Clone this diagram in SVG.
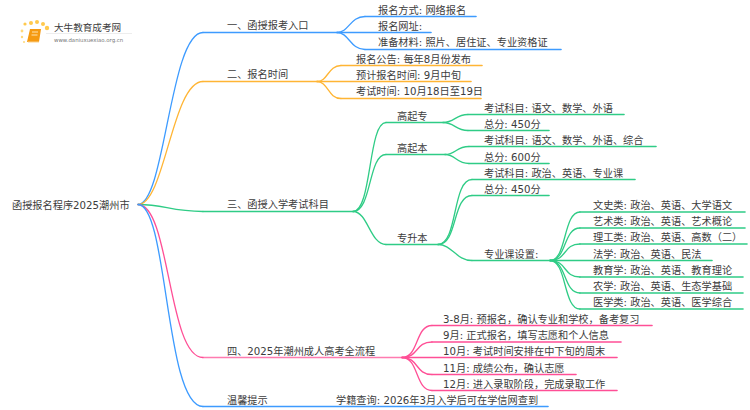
<svg xmlns="http://www.w3.org/2000/svg" width="750" height="410" viewBox="0 0 750 410">
<style>
text{font-family:"DejaVu Sans","Noto Sans CJK SC",sans-serif;font-size:10.2px;fill:#3c3c3c}
.c{fill:none;stroke-width:1.3;stroke-linecap:round}
.u{fill:none;stroke-width:1.6;stroke-linecap:round}
.b{stroke:#3d9bff}.o{stroke:#ffb534}.g{stroke:#2fcc86}.p{stroke:#ff4f96}
</style>
<rect width="750" height="410" fill="#fff"/>
<g id="connectors">
<path class="c b" d="M138 204.500C165 204.500 170 32.500 203 32.500"/>
<path class="c o" d="M138 204.500C165 204.500 172 81.500 203 81.500"/>
<path class="c g" d="M138 204.500C165 204.500 170 211.500 203 211.500"/>
<path class="c p" d="M138 204.500C170 204.500 168 357.500 203 357.500"/>
<path class="c b" d="M138 204.500C168 204.500 165 406.500 203 406.500"/>
<path class="u b" d="M203 32.500H337"/>
<path class="u o" d="M203 81.500H317"/>
<path class="u g" d="M203 211.500H353"/>
<path class="u p" d="M203 357.500H402" stroke-opacity=".75"/>
<path class="u b" d="M203 406.500H548"/>
<path class="c b" d="M337 32.500C349 32.500 350 16.500 365 16.500"/><path class="u b" d="M365 16.500H476"/>
<path class="u b" d="M337 32.500H431"/>
<path class="c b" d="M337 32.500C349 32.500 350 49.500 365 49.500"/><path class="u b" d="M365 49.500H561"/>
<path class="c o" d="M317 81.500C328 81.500 328 65.500 341 65.500"/><path class="u o" d="M341 65.500H482"/>
<path class="u o" d="M317 81.500H471"/>
<path class="c o" d="M317 81.500C328 81.500 328 98.500 341 98.500"/><path class="u o" d="M341 98.500H481"/>
<path class="c g" d="M353 211.500C372 211.500 368 122.500 386 122.500"/><path class="u g" d="M386 122.500H443"/>
<path class="c g" d="M353 211.500C372 211.500 368 154.500 386 154.500"/><path class="u g" d="M386 154.500H445"/>
<path class="c g" d="M353 211.500C368 211.500 370 244.500 386 244.500"/><path class="u g" d="M386 244.500H438"/>
<path class="c g" d="M443 122.500C455 122.500 455 114.500 468 114.500"/><path class="u g" d="M468 114.500H624"/>
<path class="c g" d="M443 122.500C455 122.500 455 130.500 468 130.500"/><path class="u g" d="M468 130.500H549"/>
<path class="c g" d="M445 154.500C456 154.500 456 146.500 469 146.500"/><path class="u g" d="M469 146.500H656"/>
<path class="c g" d="M445 154.500C456 154.500 456 163.500 469 163.500"/><path class="u g" d="M469 163.500H549"/>
<path class="c g" d="M438 244.500C458 244.500 452 179.500 472 179.500"/><path class="u g" d="M472 179.500H635"/>
<path class="c g" d="M438 244.500C458 244.500 452 195.500 472 195.500"/><path class="u g" d="M472 195.500H549"/>
<path class="c g" d="M438 244.500C452 244.500 456 260.500 472 260.500"/><path class="u g" d="M472 260.500H550"/>
<path class="c g" d="M550 260.500C567 260.500 563 212 580 212"/><path class="u g" d="M580 212H745"/>
<path class="c g" d="M550 260.500C567 260.500 563 228 580 228"/><path class="u g" d="M580 228H745"/>
<path class="c g" d="M550 260.500C567 260.500 563 244 580 244"/><path class="u g" d="M580 244H747"/>
<path class="u g" d="M550 260.500H712"/>
<path class="c g" d="M550 260.500C567 260.500 563 277 580 277"/><path class="u g" d="M580 277H743"/>
<path class="c g" d="M550 260.500C567 260.500 563 293 580 293"/><path class="u g" d="M580 293H743"/>
<path class="c g" d="M550 260.500C567 260.500 563 309 580 309"/><path class="u g" d="M580 309H743"/>
<path class="c p" d="M402 357.500C419 357.500 415 325.500 432 325.500"/><path class="u p" d="M432 325.500H652"/>
<path class="c p" d="M402 357.500C419 357.500 415 342 432 342"/><path class="u p" d="M432 342H621"/>
<path class="u p" d="M402 357.500H617"/>
<path class="c p" d="M402 357.500C419 357.500 415 374.500 432 374.500"/><path class="u p" d="M432 374.500H576"/>
<path class="c p" d="M402 357.500C419 357.500 415 390.500 432 390.500"/><path class="u p" d="M432 390.500H617"/>
</g>
<g id="logo">
<circle cx="25" cy="24" r="1.600" fill="#ffc94d"/><circle cx="31" cy="23" r="2" fill="#ffc94d"/><circle cx="37" cy="22" r="2" fill="#ffc94d"/><circle cx="43" cy="24" r="2" fill="#ffc94d"/><circle cx="47" cy="28" r="2.200" fill="#ffc94d"/><circle cx="22" cy="31" r="1.400" fill="#ffd97a"/><circle cx="22" cy="37" r="1.200" fill="#ffd97a"/><circle cx="24" cy="42" r="1" fill="#ffd97a"/>
<path d="M30 29h11l-2 13H27z" fill="#f59a12"/><path d="M28 42h11" stroke="#fbd18a" stroke-width="1"/><path d="M32 32h6M31.500 35h6" stroke="#fde3b0" stroke-width="1"/>
<text x="54" y="31" style="font-size:9.600px">大牛教育成考网</text>
<path d="M46 33.500H132" stroke="#e8e8e8" stroke-width=".8"/>
<text x="54" y="41.500" style="font-size:5.400px;fill:#777">www.daniuxuexiao.org.cn</text>
</g>
<g id="root"><text x="12" y="208.500">函授报名程序2025潮州市</text></g>
<g id="n1"><text x="227" y="29">一、函授报考入口</text></g>
<g id="n1-1"><text x="378" y="13.500">报名方式: 网络报名</text></g>
<g id="n1-2"><text x="378" y="29.500">报名网址:</text></g>
<g id="n1-3"><text x="378" y="46">准备材料: 照片、居住证、专业资格证</text></g>
<g id="n2"><text x="227" y="78">二、报名时间</text></g>
<g id="n2-1"><text x="356" y="62.500">报名公告: 每年8月份发布</text></g>
<g id="n2-2"><text x="356" y="78.500">预计报名时间: 9月中旬</text></g>
<g id="n2-3"><text x="356" y="95">考试时间: 10月18日至19日</text></g>
<g id="n3"><text x="227" y="208">三、函授入学考试科目</text></g>
<g id="n3-1"><text x="397" y="119.500">高起专</text></g>
<g id="n3-1-1"><text x="484" y="111.500">考试科目: 语文、数学、外语</text></g>
<g id="n3-1-2"><text x="484" y="127.500">总分: 450分</text></g>
<g id="n3-2"><text x="397" y="151.500">高起本</text></g>
<g id="n3-2-1"><text x="484" y="143.500">考试科目: 语文、数学、外语、综合</text></g>
<g id="n3-2-2"><text x="484" y="160.500">总分: 600分</text></g>
<g id="n3-3"><text x="397" y="241.500">专升本</text></g>
<g id="n3-3-1"><text x="484" y="176.500">考试科目: 政治、英语、专业课</text></g>
<g id="n3-3-2"><text x="484" y="192.500">总分: 450分</text></g>
<g id="n3-3-3"><text x="484" y="257.500">专业课设置:</text></g>
<g id="n3-3-3-1"><text x="593" y="209">文史类: 政治、英语、大学语文</text></g>
<g id="n3-3-3-2"><text x="593" y="225">艺术类: 政治、英语、艺术概论</text></g>
<g id="n3-3-3-3"><text x="593" y="241">理工类: 政治、英语、高数（二）</text></g>
<g id="n3-3-3-4"><text x="593" y="257.500">法学: 政治、英语、民法</text></g>
<g id="n3-3-3-5"><text x="593" y="274">教育学: 政治、英语、教育理论</text></g>
<g id="n3-3-3-6"><text x="593" y="290">农学: 政治、英语、生态学基础</text></g>
<g id="n3-3-3-7"><text x="593" y="306">医学类: 政治、英语、医学综合</text></g>
<g id="n4"><text x="227" y="354.500">四、2025年潮州成人高考全流程</text></g>
<g id="n4-1"><text x="443" y="322.500">3-8月: 预报名，确认专业和学校，备考复习</text></g>
<g id="n4-2"><text x="443" y="339">9月: 正式报名，填写志愿和个人信息</text></g>
<g id="n4-3"><text x="443" y="354.500">10月: 考试时间安排在中下旬的周末</text></g>
<g id="n4-4"><text x="443" y="371.500">11月: 成绩公布，确认志愿</text></g>
<g id="n4-5"><text x="443" y="387.500">12月: 进入录取阶段，完成录取工作</text></g>
<g id="n5"><text x="227" y="403.500">温馨提示</text></g>
<g id="n5-1"><text x="336" y="403.500">学籍查询: 2026年3月入学后可在学信网查到</text></g>
</svg>
